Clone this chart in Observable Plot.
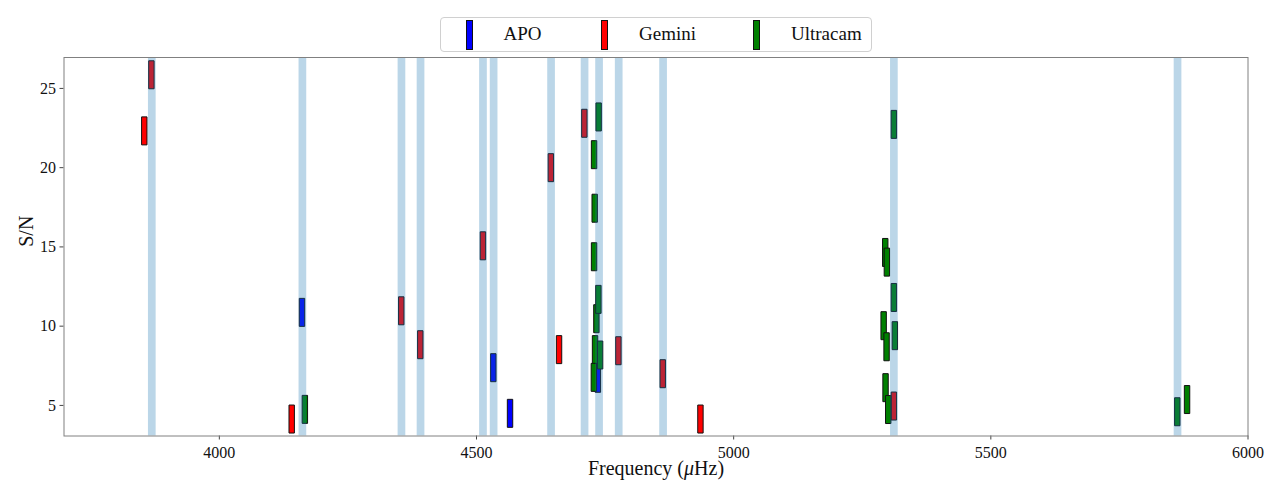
<!DOCTYPE html>
<html>
<head>
<meta charset="utf-8">
<script src="https://cdn.jsdelivr.net/npm/d3@7"></script>
<script src="https://cdn.jsdelivr.net/npm/@observablehq/plot@0.6"></script>
<style>
  html, body { margin: 0; padding: 0; background: #fff; }
  #wrap { position: relative; width: 1280px; height: 500px; font-family: 'Liberation Serif', 'DejaVu Serif', serif; }
  #legend { position: absolute; left: 440px; top: 16.5px; width: 430px; height: 33px;
            border: 1px solid #d0d0d0; border-radius: 4px; background: rgba(255,255,255,0.8); box-sizing: content-box; }
  .lg-mark { position: absolute; top: 2.5px; width: 5px; height: 27.5px; border: 1px solid #111; }
  .lg-text { position: absolute; top: 3.5px; font-size: 19px; line-height: 26px; color: #111; white-space: nowrap; }
</style>
</head>
<body>
<div id="wrap">
  <div id="legend"></div>
</div>
<script>
// ---- data ----
const seriesNames = ["APO", "Gemini", "Ultracam"];
const seriesColors = ["#0000ff", "#ff0000", "#008000"];

const apoFreq = [4160.7, 4532.7, 4565.2, 4736.0];
const apoSN   = [10.87, 7.38, 4.50, 6.71];

const geminiFreq = [3854.1, 3867.9, 4140.7, 4353.7, 4390.7, 4512.5, 4644.6, 4660.5, 4709.7, 4775.9, 4862.1, 4935.4, 5311.5];
const geminiSN   = [22.32, 25.86, 4.14, 10.97, 8.83, 15.07, 20.0, 8.52, 22.8, 8.45, 7.0, 4.14, 4.96];

const ultracamFreq = [4166.3, 4737.5, 4728.6, 4729.8, 4728.6, 4733.1, 4737.0, 4730.5, 4740.3, 4728.2,
                      5311.5, 5294.7, 5297.9, 5311.5, 5291.6, 5297.3, 5313.4, 5295.3, 5300.5, 5862.5, 5881.5];
const ultracamSN   = [4.75, 23.2, 20.82, 17.44, 14.38, 10.47, 11.69, 8.52, 8.18, 6.77,
                      22.73, 14.65, 14.04, 11.81, 10.03, 8.7, 9.4, 6.12, 4.74, 4.6, 5.37];

const bandFreq = [3868.7, 4161.5, 4354.1, 4391.2, 4512.6, 4533.3, 4645.0, 4710.1, 4738.3, 4776.5, 4862.8, 5311.5, 5863.0];

const xTicks = [4000, 4500, 5000, 5500, 6000];
const yTicks = [5, 10, 15, 20, 25];
const xLabel = "Frequency (μHz)";
const yLabel = "S/N";

// rectangular marker symbol (fixed pixel size)
const barSymbol = { draw(ctx) { ctx.rect(-2.7, -14, 5.4, 28); } };

const markStyle = (color) => ({ symbol: barSymbol, fill: color, stroke: "#111", strokeWidth: 1 });

const chart = Plot.plot({
  width: 1280,
  height: 500,
  marginLeft: 63.5,
  marginRight: 32.5,
  marginTop: 57,
  marginBottom: 64.5,
  style: { fontFamily: "'Liberation Serif', 'DejaVu Serif', serif", fontSize: "16px", background: "transparent", color: "#111", overflow: "visible" },
  x: { domain: [3698, 6000] },
  y: { domain: [3.07, 26.95] },
  marks: [
    Plot.dot(apoFreq, { x: apoFreq, y: apoSN, ...markStyle(seriesColors[0]) }),
    Plot.dot(geminiFreq, { x: geminiFreq, y: geminiSN, ...markStyle(seriesColors[1]) }),
    Plot.dot(ultracamFreq, { x: ultracamFreq, y: ultracamSN, ...markStyle(seriesColors[2]) }),
    Plot.ruleX(bandFreq, { x: d => d, stroke: "#1f77b4", strokeOpacity: 0.3, strokeWidth: 7.7 }),
    Plot.axisX({ ticks: xTicks, tickFormat: d3.format("d"), tickSize: 4, tickPadding: 7, label: null, stroke: "#444", fontSize: 16 }),
    Plot.axisY({ ticks: yTicks, tickFormat: d3.format("d"), tickSize: 4, tickPadding: 4, label: null, stroke: "#444", fontSize: 16 }),
    Plot.frame({ stroke: "#808080", strokeWidth: 1 }),
    Plot.text([xLabel], { text: d => d, frameAnchor: "bottom", dy: 38.5, fontSize: 20, fill: "#111" }),
    Plot.text([yLabel], { text: d => d, frameAnchor: "left", dx: -37.5, rotate: -90, fontSize: 20, fill: "#111" })
  ]
});

// italic mu in x label
chart.querySelectorAll("text").forEach(t => {
  if (t.textContent === xLabel) {
    const parts = xLabel.split("μ");
    t.textContent = "";
    const ns = "http://www.w3.org/2000/svg";
    const a = document.createElementNS(ns, "tspan"); a.textContent = parts[0];
    const m = document.createElementNS(ns, "tspan"); m.textContent = "μ"; m.setAttribute("font-style", "italic");
    const b = document.createElementNS(ns, "tspan"); b.textContent = parts[1];
    t.append(a, m, b);
  }
});

chart.style.position = "absolute";
chart.style.left = "0px";
chart.style.top = "0px";
const wrap = document.getElementById("wrap");
wrap.insertBefore(chart, wrap.firstChild);

// legend (positions relative to the legend box)
const legend = document.getElementById("legend");
const markLeft = [24.5, 159.5, 311.5];
const textLeft = [62.5, 198, 350];
seriesNames.forEach((name, i) => {
  const m = document.createElement("div");
  m.className = "lg-mark";
  m.style.left = markLeft[i] + "px";
  m.style.background = seriesColors[i];
  legend.appendChild(m);
  const t = document.createElement("div");
  t.className = "lg-text";
  t.style.left = textLeft[i] + "px";
  t.textContent = name;
  legend.appendChild(t);
});
</script>
</body>
</html>
